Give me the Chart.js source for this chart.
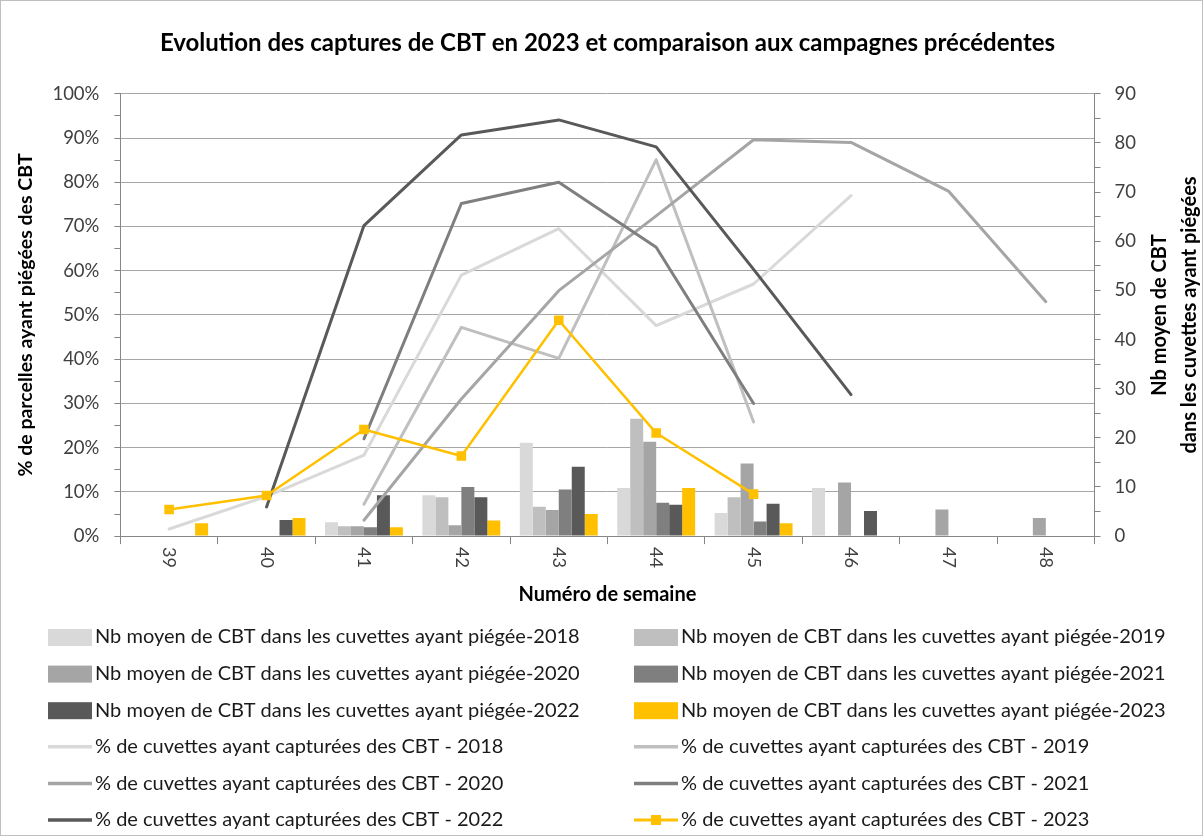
<!DOCTYPE html>
<html lang="fr">
<head>
<meta charset="utf-8">
<script src="https://cdn.jsdelivr.net/npm/chart.js@4.4.0/dist/chart.umd.min.js"></script>
<style>
  html, body { margin: 0; padding: 0; background: #fff; }
  #cadre { width: 1203px; height: 836px; box-sizing: border-box; border: 1px solid #bfbfbf; }
  canvas { display: block; }
</style>
</head>
<body>
<div id="cadre"><canvas id="graphe" width="1201" height="834"></canvas></div>
<script>
// Semaines
const semaines = ['39', '40', '41', '42', '43', '44', '45', '46', '47', '48'];

// Nb moyen de CBT dans les cuvettes ayant piégé (axe droit)
const nb2018 = [null, null, 2.8, 8.3, 19.0, 9.8, 4.7, 9.8, null, null];
const nb2019 = [null, null, 2.0, 7.9, 6.0, 23.9, 7.9, null, null, null];
const nb2020 = [null, null, 2.0, 2.2, 5.3, 19.2, 14.8, 10.9, 5.4, 3.7];
const nb2021 = [null, null, 1.8, 10.0, 9.5, 6.8, 3.0, null, null, null];
const nb2022 = [null, 3.3, 8.3, 7.9, 14.1, 6.4, 6.6, 5.1, null, null];
const nb2023 = [2.6, 3.7, 1.8, 3.2, 4.5, 9.8, 2.6, null, null, null];

// % de cuvettes ayant capturé des CBT (axe gauche)
const pct2018 = [1.6, 9, 18.3, 59, 69.5, 47.6, 57, 77, null, null];
const pct2019 = [null, null, 7.2, 47.2, 40.2, 85.1, 25.8, null, null, null];
const pct2020 = [null, null, 3.6, 31, 55.5, 72.4, 89.6, 89, 78, 53];
const pct2021 = [null, null, 22, 75.2, 80, 65.3, 30, null, null, null];
const pct2022 = [null, 6.6, 70.2, 90.7, 94.1, 88, 60.3, 32, null, null];
const pct2023 = [6.0, 9.2, 24.1, 18.1, 48.8, 23.3, 9.5, null, null, null];

const ticksGauche = [0, 10, 20, 30, 40, 50, 60, 70, 80, 90, 100];
const ticksDroite = [0, 10, 20, 30, 40, 50, 60, 70, 80, 90];

const annees = ['2018', '2019', '2020', '2021', '2022', '2023'];
const couleurs = ['#d9d9d9', '#bfbfbf', '#a5a5a5', '#7f7f7f', '#595959', '#ffc000'];

const titre = 'Evolution des captures de CBT en 2023 et comparaison aux campagnes précédentes';

const police = 'Lato';
Chart.defaults.font.family = police;

const barres = [nb2018, nb2019, nb2020, nb2021, nb2022, nb2023].map((d, i) => ({
    type: 'bar',
    label: 'Nb moyen de CBT dans les cuvettes ayant piégée-' + annees[i],
    data: d,
    yAxisID: 'y1',
    backgroundColor: couleurs[i],
    borderWidth: 0,
    categoryPercentage: 0.8,
    barPercentage: 1,
    order: 10
}));

const courbes = [pct2018, pct2019, pct2020, pct2021, pct2022, pct2023].map((d, i) => ({
    type: 'line',
    label: '% de cuvettes ayant capturées des CBT - ' + annees[i],
    data: d,
    yAxisID: 'y',
    borderColor: couleurs[i],
    backgroundColor: couleurs[i],
    borderWidth: i === 5 ? 2.5 : 3,
    borderCapStyle: 'round',
    borderJoinStyle: 'round',
    tension: 0,
    pointRadius: i === 5 ? 5 : 0,
    pointStyle: 'rect',
    order: 6 - i
}));

// titre centré sur la zone du graphique (le titre Chart.js ne sert qu'à réserver la place)
const titreCentre = {
    id: 'titreCentre',
    afterDraw(chart) {
        const ctx = chart.ctx;
        const a = chart.chartArea;
        ctx.save();
        ctx.font = 'bold 24px ' + police;
        ctx.fillStyle = '#000';
        ctx.textAlign = 'center';
        ctx.textBaseline = 'middle';
        ctx.fillText(titre, (a.left + a.right) / 2, 42);
        ctx.restore();
    }
};

// étiquettes de l'axe x tournées dans le sens horaire (comme Excel)
const etiquettesX = {
    id: 'etiquettesX',
    afterDraw(chart) {
        const sx = chart.scales.x;
        const ctx = chart.ctx;
        ctx.save();
        ctx.font = '18px ' + police;
        ctx.fillStyle = '#404040';
        ctx.textAlign = 'left';
        ctx.textBaseline = 'middle';
        sx.ticks.forEach((t, i) => {
            ctx.save();
            ctx.translate(sx.getPixelForTick(i), sx.top + 11);
            ctx.rotate(Math.PI / 2);
            ctx.fillText(chart.data.labels[i], 0, 0);
            ctx.restore();
        });
        ctx.restore();
    }
};

// titre de l'axe droit, sur deux lignes, lu de bas en haut
const titreDroite = {
    id: 'titreDroite',
    afterDraw(chart) {
        const ctx = chart.ctx;
        const a = chart.chartArea;
        ctx.save();
        ctx.translate(1174, (a.top + a.bottom) / 2);
        ctx.rotate(-Math.PI / 2);
        ctx.font = 'bold 20px ' + police;
        ctx.fillStyle = '#000';
        ctx.textAlign = 'center';
        ctx.textBaseline = 'middle';
        ctx.fillText('Nb moyen de CBT', 0, -15);
        ctx.fillText('dans les cuvettes ayant piégées', 0, 15);
        ctx.restore();
    }
};

// légende sur deux colonnes alignées
const legende = {
    id: 'legende',
    afterDraw(chart) {
        const ctx = chart.ctx;
        ctx.save();
        ctx.font = '20px ' + police;
        ctx.textBaseline = 'middle';
        ctx.textAlign = 'left';
        chart.data.datasets.forEach((ds, i) => {
            const x = i % 2 === 0 ? 47 : 633;
            const y = 636 + Math.floor(i / 2) * 36.6;
            if (ds.type === 'bar') {
                ctx.fillStyle = ds.backgroundColor;
                ctx.fillRect(x, y - 8, 44, 17);
            } else {
                ctx.strokeStyle = ds.borderColor;
                ctx.lineWidth = ds.borderWidth + 0.5;
                ctx.beginPath();
                ctx.moveTo(x, y);
                ctx.lineTo(x + 44, y);
                ctx.stroke();
                if (ds.pointRadius > 0) {
                    ctx.fillStyle = ds.borderColor;
                    ctx.fillRect(x + 22 - 5, y - 5, 10, 10);
                }
            }
            ctx.fillStyle = '#1a1a1a';
            ctx.fillText(ds.label, x + 47, y);
        });
        ctx.restore();
    }
};

new Chart(document.getElementById('graphe'), {
    data: {
        labels: semaines,
        datasets: [...barres, ...courbes]
    },
    options: {
        responsive: false,
        animation: false,
        events: [],
        layout: { padding: { top: 0, left: 13, right: 52, bottom: 228 } },
        plugins: {
            legend: { display: false },
            tooltip: { enabled: false },
            title: {
                display: true,
                text: titre,
                color: 'transparent',
                font: { size: 24, weight: 'bold' },
                padding: { top: 27, bottom: 37 }
            }
        },
        scales: {
            x: {
                offset: true,
                grid: { offset: true, drawOnChartArea: false, drawTicks: true, tickLength: 8, color: '#868686' },
                border: { color: '#868686' },
                ticks: { color: 'transparent', font: { size: 18 }, minRotation: 90, maxRotation: 90, padding: 4 },
                title: {
                    display: true, text: 'Numéro de semaine', color: '#000',
                    font: { size: 20, weight: 'bold' }, padding: { top: 10, bottom: 0 }
                }
            },
            y: {
                position: 'left',
                min: 0, max: 100,
                afterBuildTicks: s => {
                    s.ticks = [];
                    for (let v = 0; v <= 100; v += 5) s.ticks.push({ value: v });
                },
                ticks: {
                    autoSkip: false,
                    font: { size: 18.5 }, color: '#404040', padding: 15,
                    callback: v => ticksGauche.includes(v) ? v + '%' : ''
                },
                grid: {
                    color: c => c.tick && ticksGauche.includes(c.tick.value) ? '#a6a6a6' : 'transparent',
                    tickColor: '#868686', tickLength: 6
                },
                border: { color: '#868686' },
                title: {
                    display: true, text: '% de parcelles ayant piégées des CBT', color: '#000',
                    font: { size: 19.5, weight: 'bold' }, padding: { top: 0, bottom: 0 }
                }
            },
            y1: {
                position: 'right',
                min: 0, max: 90,
                afterBuildTicks: s => {
                    s.ticks = [];
                    for (let v = 0; v <= 90; v += 5) s.ticks.push({ value: v });
                },
                ticks: {
                    autoSkip: false,
                    font: { size: 18.5 }, color: '#404040', padding: 14,
                    callback: v => ticksDroite.includes(v) ? v : ''
                },
                grid: { drawOnChartArea: false, tickColor: '#868686', tickLength: 6 },
                border: { color: '#868686' }
            }
        }
    },
    plugins: [titreCentre, etiquettesX, titreDroite, legende]
});
</script>
</body>
</html>
